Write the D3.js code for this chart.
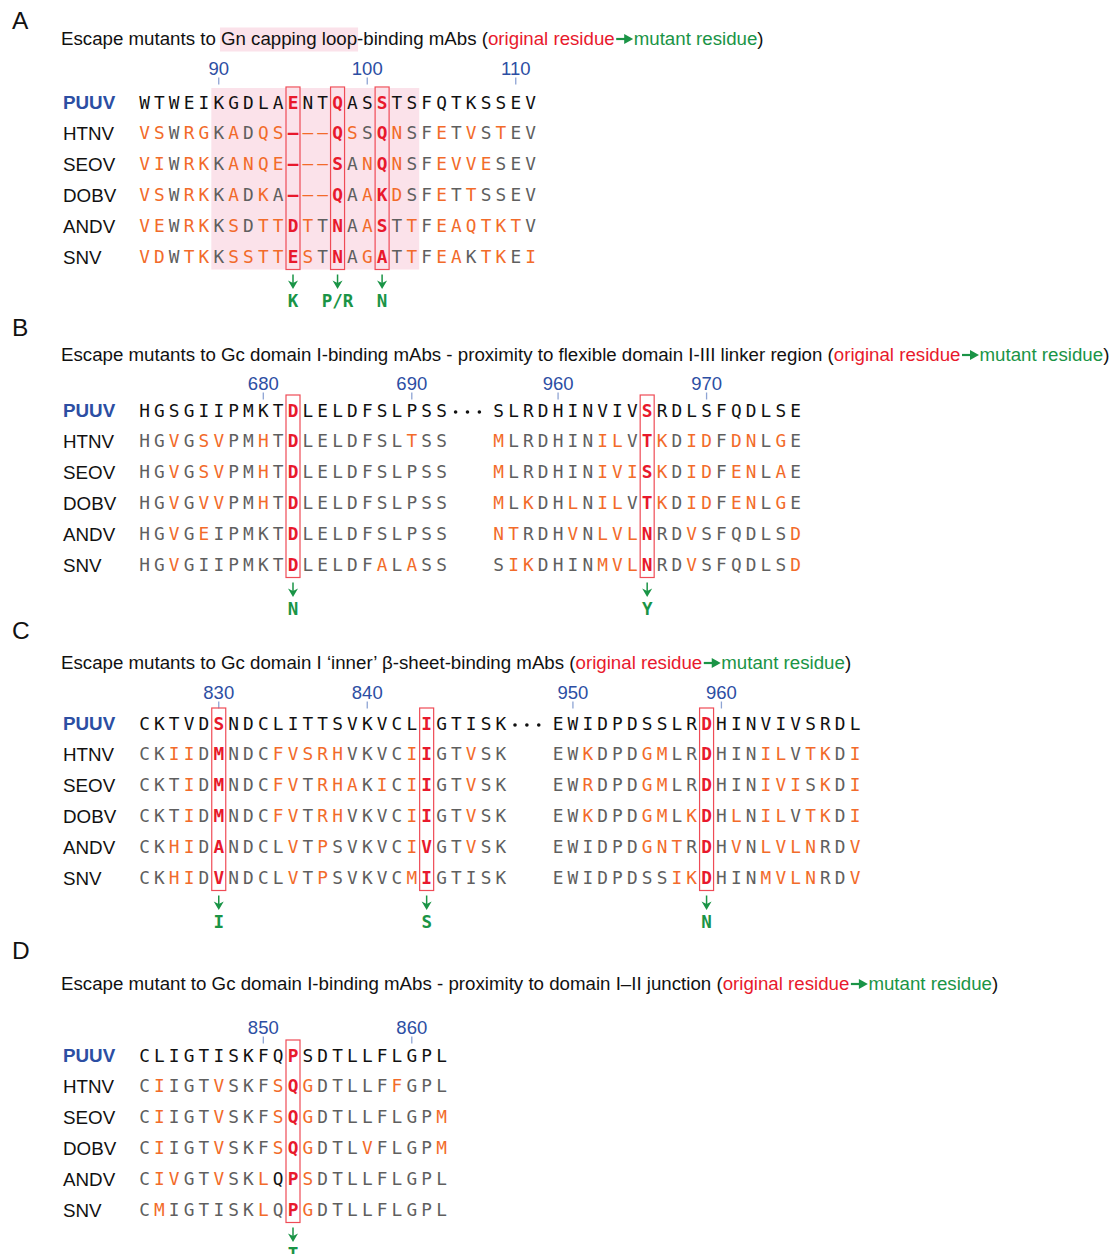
<!DOCTYPE html>
<html>
<head>
<meta charset="utf-8">
<script src="https://cdn.jsdelivr.net/npm/d3@7"></script>
<style>
  body { margin: 0; background: #fff; }
  text { white-space: pre; }
</style>
</head>
<body>
<svg id="fig"></svg>
<script>
// ---- data -------------------------------------------------------------
const viruses = ["PUUV", "HTNV", "SEOV", "DOBV", "ANDV", "SNV"];

// Gn capping loop (residues 85-111)
const seqGnLoop = [
  "WTWEIKGDLAENTQASSTSFQTKSSEV",
  "VSWRGKADQS---QSSQNSFETVSTEV",
  "VIWRKKANQE---SANQNSFEVVESEV",
  "VSWRKKADKA---QAAKDSFETTSSEV",
  "VEWRKKSDTTDTTNAASTTFEAQTKTV",
  "VDWTKKSSTTESTNAGATTFEAKTKEI"
];
// Gc domain I, near the I-III linker: two stretches
const seqGcLinkerN = [
  "HGSGIIPMKTDLELDFSLPSS",
  "HGVGSVPMHTDLELDFSLTSS",
  "HGVGSVPMHTDLELDFSLPSS",
  "HGVGVVPMHTDLELDFSLPSS",
  "HGVGEIPMKTDLELDFSLPSS",
  "HGVGIIPMKTDLELDFALASS"
];
const seqGcLinkerC = [
  "SLRDHINVIVSRDLSFQDLSE",
  "MLRDHINILVTKDIDFDNLGE",
  "MLRDHINIVISKDIDFENLAE",
  "MLKDHLNILVTKDIDFENLGE",
  "NTRDHVNLVLNRDVSFQDLSD",
  "SIKDHINMVLNRDVSFQDLSD"
];
// Gc domain I inner beta-sheet: two stretches
const seqGcSheetN = [
  "CKTVDSNDCLITTSVKVCLIGTISK",
  "CKIIDMNDCFVSRHVKVCIIGTVSK",
  "CKTIDMNDCFVTRHAKICIIGTVSK",
  "CKTIDMNDCFVTRHVKVCIIGTVSK",
  "CKHIDANDCLVTPSVKVCIVGTVSK",
  "CKHIDVNDCLVTPSVKVCMIGTISK"
];
const seqGcSheetC = [
  "EWIDPDSSLRDHINVIVSRDL",
  "EWKDPDGMLRDHINILVTKDI",
  "EWRDPDGMLRDHINIVISKDI",
  "EWKDPDGMLKDHLNILVTKDI",
  "EWIDPDGNTRDHVNLVLNRDV",
  "EWIDPDSSIKDHINMVLNRDV"
];
// Gc domain I-II junction
const seqGcJunction = [
  "CLIGTISKFQPSDTLLFLGPL",
  "CIIGTVSKFSQGDTLLFFGPL",
  "CIIGTVSKFSQGDTLLFLGPM",
  "CIIGTVSKFSQGDTLVFLGPM",
  "CIVGTVSKLQPSDTLLFLGPL",
  "CMIGTISKLQPGDTLLFLGPL"
];

// first PUUV residue number of each stretch
const firstResidue = { gnLoop: 85, linkerN: 672, linkerC: 956, sheetN: 825, sheetC: 949, junction: 842 };
// numbered ticks of each stretch
const ticks = { gnLoop: [90, 100, 110], linkerN: [680, 690], linkerC: [960, 970],
                sheetN: [830, 840], sheetC: [950, 960], junction: [850, 860] };
// escape sites (PUUV numbering) and the mutant residue
const escapeSites = { gnLoop: [95, 98, 101], linkerN: [682], linkerC: [966],
                      sheetN: [830, 844], sheetC: [959], junction: [852] };
const mutantResidues = { gnLoop: ["K", "P/R", "N"], linkerN: ["N"], linkerC: ["Y"],
                         sheetN: ["I", "S"], sheetC: ["N"], junction: ["T"] };
// capping loop residues shaded in the Gn stretch
const cappingLoopRange = [90, 103];

// residues whose shading does not follow the identity rule
const toneExceptions = [
  { stretch: "junction", virus: "ANDV", residue: 851, tone: "black" },
  { stretch: "junction", virus: "ANDV", residue: 853, tone: "orange" }
];

const suffix = [["(", "k"], ["original residue", "r"], ["", "arrow"], ["mutant residue", "g"], [")", "k"]];
const titleA = [["Escape mutants to ", "k"], ["Gn capping loop", "hl"], ["-binding mAbs ", "k"], ...suffix];
const titleB = [["Escape mutants to Gc domain I-binding mAbs - proximity to flexible domain I-III linker region ", "k"], ...suffix];
const titleC = [["Escape mutants to Gc domain I \u2018inner\u2019 \u03b2-sheet-binding mAbs ", "k"], ...suffix];
const titleD = [["Escape mutant to Gc domain I-binding mAbs - proximity to domain I\u2013II junction ", "k"], ...suffix];

// ---- styling ------------------------------------------------------------
const W = 1111, H = 1254;
const C = {
  black: "#111111", grey: "#5f5f5f", orange: "#f26b2a", red: "#e8192c",
  green: "#1a9446", blue: "#2c4ea3", tick: "#8ea4d4", pink: "#fbe2ea", box: "#ef4b56"
};
const SANS = "'Liberation Sans', Arial, sans-serif";
const MONO = "'DejaVu Sans Mono', monospace";
const STEP = 14.85;        // horizontal pitch of one residue
const ROWGAP = 30.9;       // vertical pitch of one sequence row
const X0 = 144.5;          // centre of the first residue column
const BREAK = 2.85;        // extra columns between two stretches

const svg = d3.select("#fig").attr("width", W).attr("height", H)
  .style("font-family", SANS);
svg.append("rect").attr("width", W).attr("height", H).attr("fill", "#fff");

const panels = [
  { letter: "A", title: titleA, stretches: [{ key: "gnLoop", seqs: seqGnLoop }],
    yLetter: 29, yTitle: 45, yNum: 68, yRow0: 102 },
  { letter: "B", stretches: [{ key: "linkerN", seqs: seqGcLinkerN }, { key: "linkerC", seqs: seqGcLinkerC }],
    title: titleB, yLetter: 336, yTitle: 361, yNum: 383, yRow0: 410 },
  { letter: "C", stretches: [{ key: "sheetN", seqs: seqGcSheetN }, { key: "sheetC", seqs: seqGcSheetC }],
    title: titleC, yLetter: 639, yTitle: 669, yNum: 692, yRow0: 723 },
  { letter: "D", stretches: [{ key: "junction", seqs: seqGcJunction }],
    title: titleD, yLetter: 959, yTitle: 990, yNum: 1027, yRow0: 1055 }
];

function drawTitle(g, x, y, parts) {
  let cx = x;
  parts.forEach(([txt, tone]) => {
    if (tone === "arrow") {
      const a = g.append("g").attr("transform", `translate(${cx + 1.5},${y - 6})`);
      a.append("line").attr("x1", 0).attr("x2", 10).attr("y1", 0).attr("y2", 0)
        .attr("stroke", C.green).attr("stroke-width", 2.2);
      a.append("path").attr("d", "M8,-5 L17,0 L8,5 Z").attr("fill", C.green);
      cx += 19;
      return;
    }
    const t = g.append("text").attr("x", cx).attr("y", y)
      .attr("font-size", 18.7)
      .attr("fill", tone === "r" ? C.red : tone === "g" ? C.green : C.black)
      .text(txt);
    const w = t.node().getComputedTextLength();
    if (tone === "hl") {
      g.insert("rect", "text").attr("x", cx - 1).attr("y", y - 17.5).attr("width", w + 2)
        .attr("height", 24).attr("fill", C.pink);
    }
    cx += w;
  });
}

const y = d3.scaleLinear().domain([0, 1]).range([0, ROWGAP]);
const rowIndex = d3.scalePoint().domain(viruses).range([0, viruses.length - 1]);

panels.forEach(p => {
  const g = svg.append("g");
  g.append("text").attr("x", 12).attr("y", p.yLetter).attr("font-size", 24.5)
    .attr("fill", C.black).text(p.letter);
  drawTitle(g, 61, p.yTitle, p.title);

  const rowY = v => p.yRow0 + y(rowIndex(v));
  const lastY = rowY(viruses[viruses.length - 1]);

  // virus names
  viruses.forEach((v, i) => {
    g.append("text").attr("x", 63).attr("y", rowY(v) + 7)
      .attr("font-size", 18.8)
      .attr("font-weight", i === 0 ? "bold" : "normal")
      .attr("fill", i === 0 ? C.blue : C.black)
      .text(v);
  });

  let colStart = 0;
  p.stretches.forEach((s, si) => {
    const start = firstResidue[s.key];
    const n = s.seqs[0].length;
    const x = d3.scaleLinear().domain([start, start + 1])
      .range([X0 + colStart * STEP, X0 + (colStart + 1) * STEP]);
    const sites = escapeSites[s.key];

    // shaded capping loop
    if (s.key === "gnLoop") {
      g.append("rect")
        .attr("x", x(cappingLoopRange[0]) - STEP / 2)
        .attr("width", x(cappingLoopRange[1]) - x(cappingLoopRange[0]) + STEP)
        .attr("y", p.yRow0 - 14).attr("height", lastY - p.yRow0 + 27)
        .attr("fill", C.pink);
    }

    // position ticks
    ticks[s.key].forEach(t => {
      g.append("text").attr("x", x(t)).attr("y", p.yNum + 6.5)
        .attr("text-anchor", "middle").attr("font-size", 18.5).attr("fill", C.blue).text(t);
      g.append("line").attr("x1", x(t)).attr("x2", x(t))
        .attr("y1", p.yNum + 9.5).attr("y2", p.yNum + 16.5)
        .attr("stroke", C.tick).attr("stroke-width", 1.3);
    });

    // escape-site boxes
    sites.forEach(r => {
      g.append("rect").attr("x", x(r) - 7).attr("width", 14)
        .attr("y", p.yRow0 - 15).attr("height", lastY - p.yRow0 + 28)
        .attr("fill", "none").attr("stroke", C.box).attr("stroke-width", 1.2);
    });

    // residues
    s.seqs.forEach((seq, ri) => {
      const v = viruses[ri];
      const ry = rowY(v) + 6.5;
      seq.split("").forEach((ch, ci) => {
        const res = start + ci;
        const boxed = sites.includes(res);
        let tone;
        if (boxed) tone = "red";
        else if (ri === 0) tone = "black";
        else tone = ch === s.seqs[0][ci] ? "grey" : "orange";
        const ex = toneExceptions.find(e => e.stretch === s.key && e.virus === v && e.residue === res);
        if (ex) tone = ex.tone;
        g.append("text").attr("x", x(res)).attr("y", ry)
          .attr("text-anchor", "middle")
          .attr("font-family", MONO).attr("font-size", 17.8)
          .attr("font-weight", boxed ? "bold" : "normal")
          .attr("fill", C[tone])
          .text(ch === "-" ? "\u2013" : ch);
      });
    });

    // mutation arrows
    sites.forEach((r, k) => {
      const ax = x(r);
      g.append("line").attr("x1", ax).attr("x2", ax)
        .attr("y1", lastY + 18).attr("y2", lastY + 28)
        .attr("stroke", C.green).attr("stroke-width", 1.5);
      g.append("path")
        .attr("d", `M${ax - 5},${lastY + 24} L${ax},${lastY + 32.5} L${ax + 5},${lastY + 24} L${ax},${lastY + 26.5} Z`)
        .attr("fill", C.green);
      g.append("text").attr("x", ax).attr("y", lastY + 50)
        .attr("text-anchor", "middle").attr("font-family", MONO)
        .attr("font-size", 17.5).attr("font-weight", "bold").attr("fill", C.green)
        .text(mutantResidues[s.key][k]);
    });

    // ellipsis between stretches (PUUV row only)
    if (si < p.stretches.length - 1) {
      const lastX = x(start + n - 1);
      [0.95, 1.75, 2.55].forEach(d => {
        g.append("circle").attr("cx", lastX + d * STEP).attr("cy", p.yRow0 + 2)
          .attr("r", 1.8).attr("fill", C.black);
      });
    }
    colStart += n + BREAK;
  });
});
</script>
</body>
</html>
